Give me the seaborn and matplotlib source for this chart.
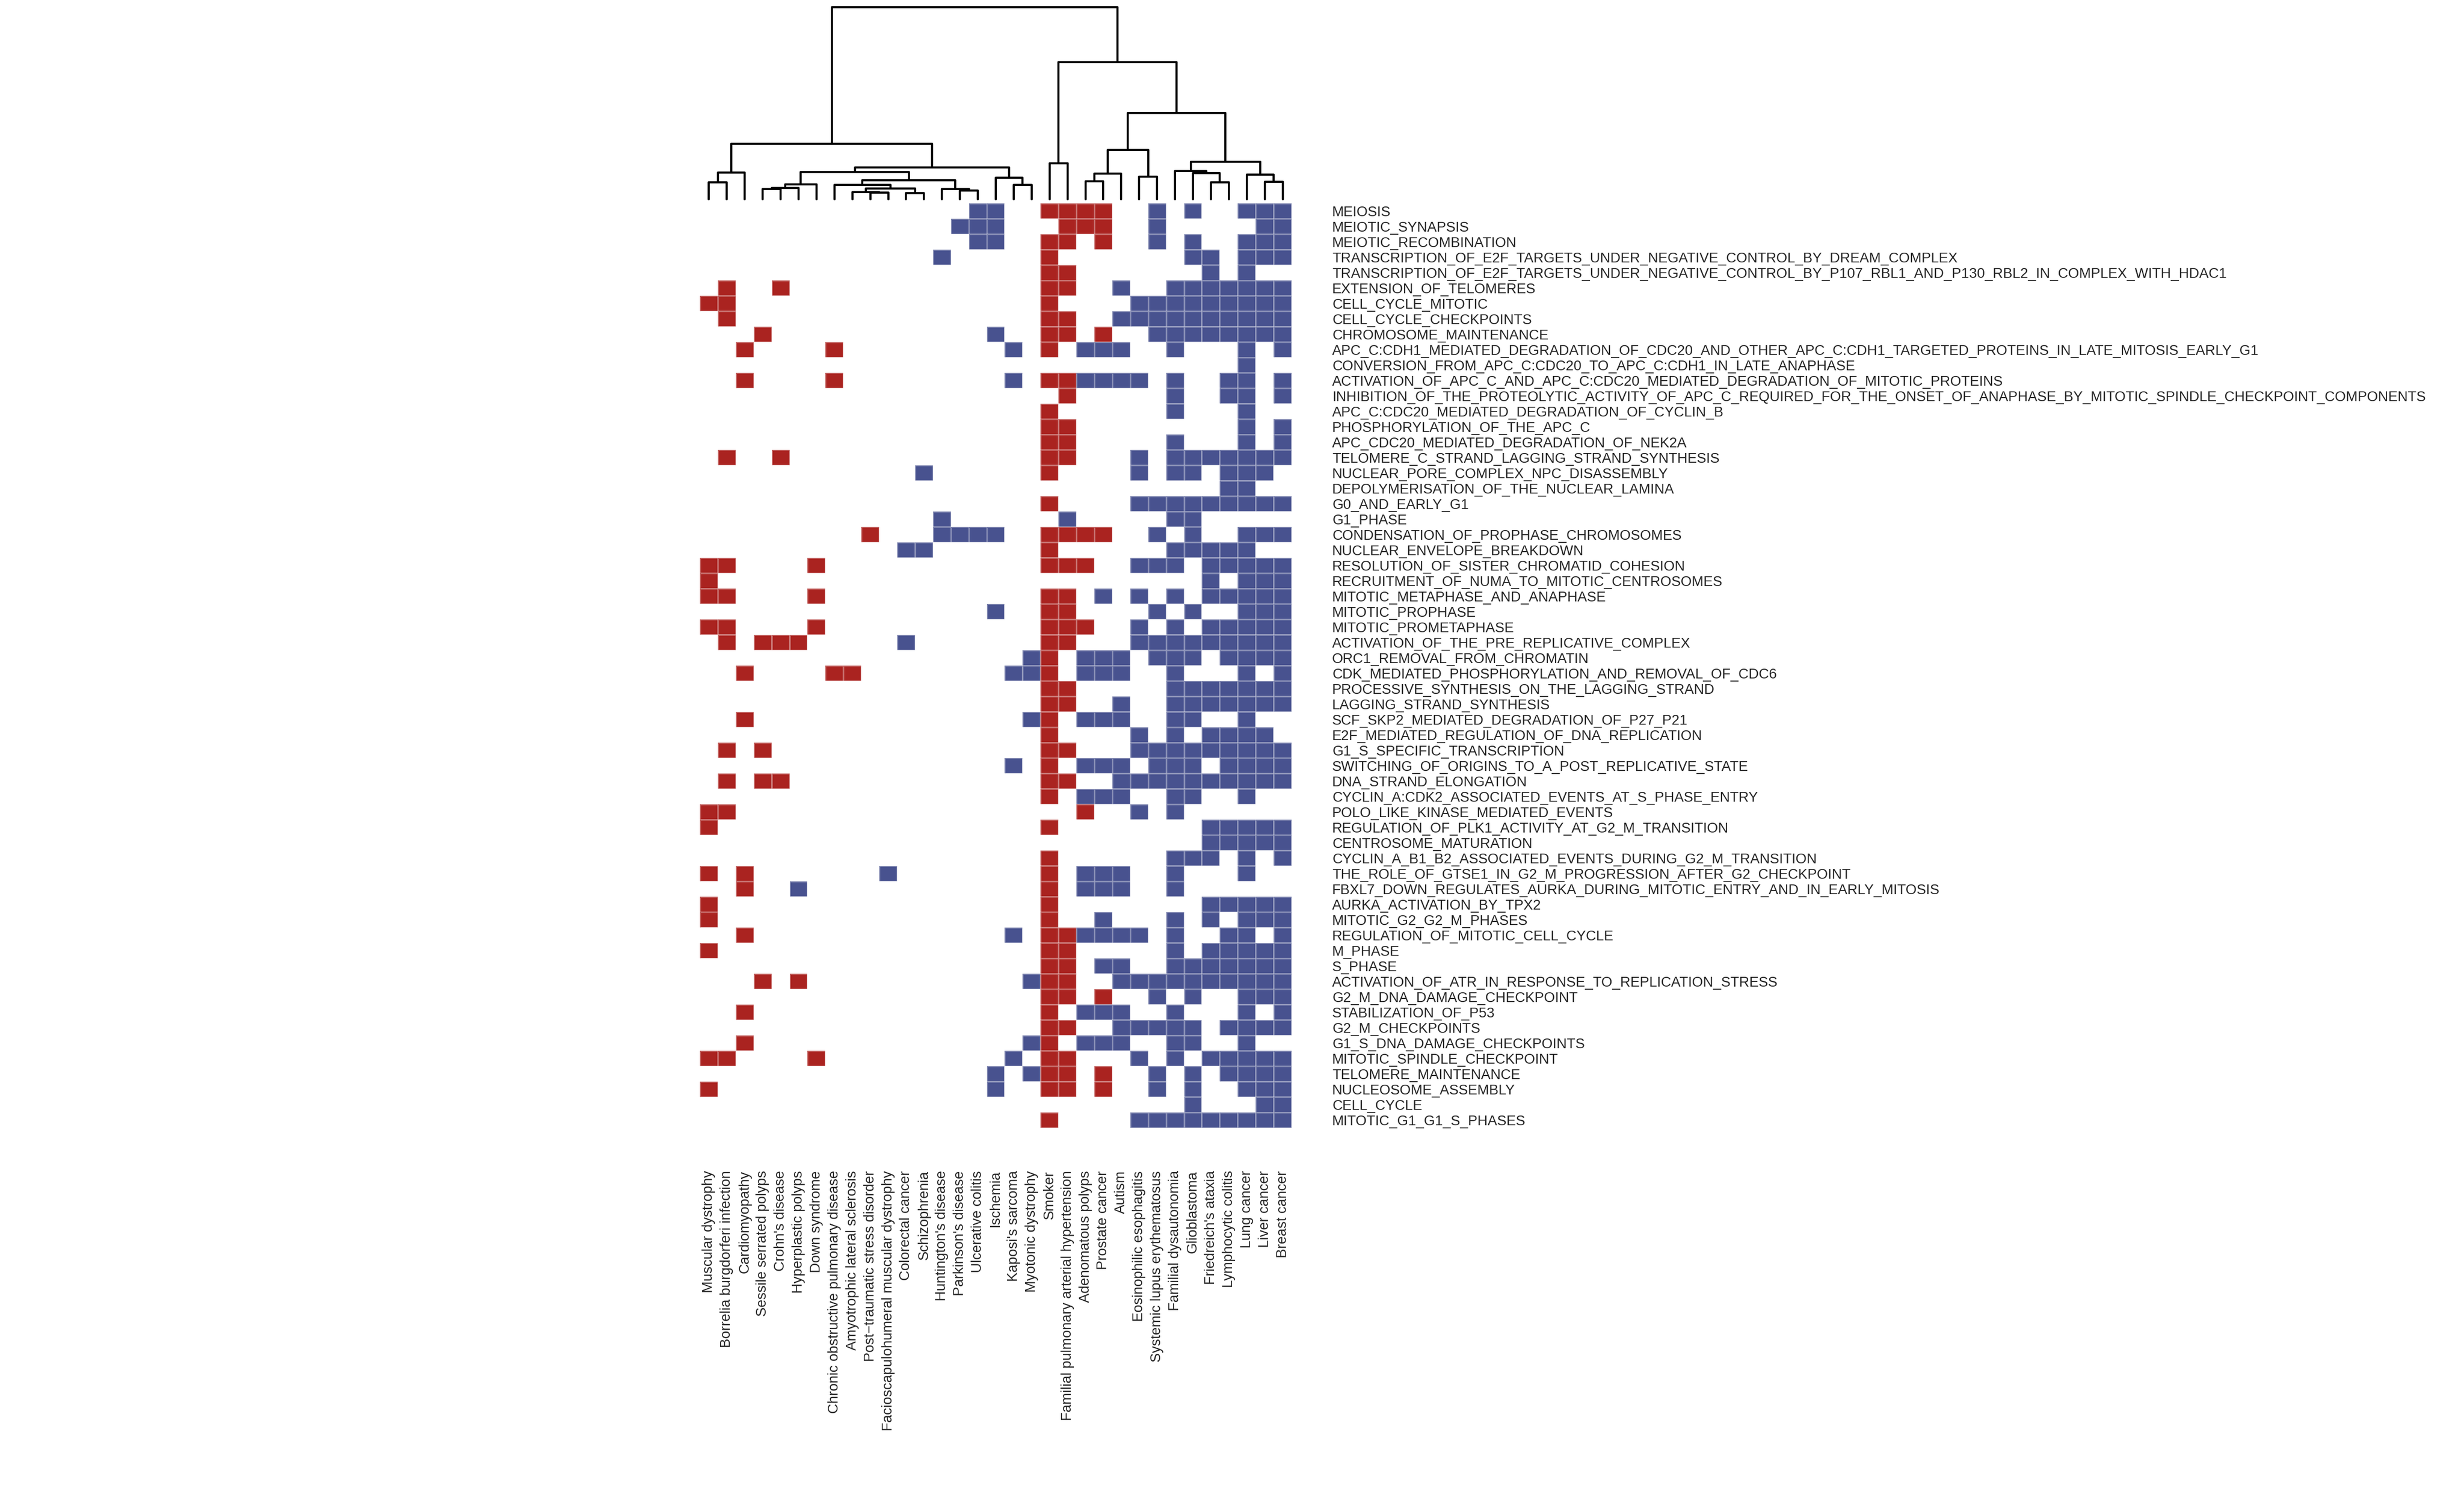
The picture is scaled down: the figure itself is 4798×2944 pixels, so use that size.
import numpy as np
import pandas as pd
import seaborn as sns
import matplotlib.pyplot as plt
from matplotlib.colors import ListedColormap

sns.set_style('white')
plt.rcParams['font.family'] = ['Liberation Sans', 'DejaVu Sans']

# column order as it comes out of the dendrogram
diseases = ['Muscular dystrophy', 'Borrelia burgdorferi infection', 'Cardiomyopathy',
            'Sessile serrated polyps', "Crohn's disease", 'Hyperplastic polyps', 'Down syndrome',
            'Chronic obstructive pulmonary disease', 'Amyotrophic lateral sclerosis',
            'Post\u2212traumatic stress disorder', 'Facioscapulohumeral muscular dystrophy',
            'Colorectal cancer', 'Schizophrenia', "Huntington's disease", "Parkinson's disease",
            'Ulcerative colitis', 'Ischemia', "Kaposi's sarcoma", 'Myotonic dystrophy', 'Smoker',
            'Familial pulmonary arterial hypertension', 'Adenomatous polyps', 'Prostate cancer',
            'Autism', 'Eosinophilic esophagitis', 'Systemic lupus erythematosus',
            'Familial dysautonomia', 'Glioblastoma', "Friedreich's ataxia", 'Lymphocytic colitis',
            'Lung cancer', 'Liver cancer', 'Breast cancer']

pathways = ['MEIOSIS', 'MEIOTIC_SYNAPSIS', 'MEIOTIC_RECOMBINATION',
            'TRANSCRIPTION_OF_E2F_TARGETS_UNDER_NEGATIVE_CONTROL_BY_DREAM_COMPLEX',
            'TRANSCRIPTION_OF_E2F_TARGETS_UNDER_NEGATIVE_CONTROL_BY_P107_RBL1_AND_P130_RBL2_IN_COMPLEX_WITH_HDAC1',
            'EXTENSION_OF_TELOMERES', 'CELL_CYCLE_MITOTIC', 'CELL_CYCLE_CHECKPOINTS',
            'CHROMOSOME_MAINTENANCE',
            'APC_C:CDH1_MEDIATED_DEGRADATION_OF_CDC20_AND_OTHER_APC_C:CDH1_TARGETED_PROTEINS_IN_LATE_MITOSIS_EARLY_G1',
            'CONVERSION_FROM_APC_C:CDC20_TO_APC_C:CDH1_IN_LATE_ANAPHASE',
            'ACTIVATION_OF_APC_C_AND_APC_C:CDC20_MEDIATED_DEGRADATION_OF_MITOTIC_PROTEINS',
            'INHIBITION_OF_THE_PROTEOLYTIC_ACTIVITY_OF_APC_C_REQUIRED_FOR_THE_ONSET_OF_ANAPHASE_BY_MITOTIC_SPINDLE_CHECKPOINT_COMPONENTS',
            'APC_C:CDC20_MEDIATED_DEGRADATION_OF_CYCLIN_B', 'PHOSPHORYLATION_OF_THE_APC_C',
            'APC_CDC20_MEDIATED_DEGRADATION_OF_NEK2A', 'TELOMERE_C_STRAND_LAGGING_STRAND_SYNTHESIS',
            'NUCLEAR_PORE_COMPLEX_NPC_DISASSEMBLY', 'DEPOLYMERISATION_OF_THE_NUCLEAR_LAMINA',
            'G0_AND_EARLY_G1', 'G1_PHASE', 'CONDENSATION_OF_PROPHASE_CHROMOSOMES',
            'NUCLEAR_ENVELOPE_BREAKDOWN', 'RESOLUTION_OF_SISTER_CHROMATID_COHESION',
            'RECRUITMENT_OF_NUMA_TO_MITOTIC_CENTROSOMES', 'MITOTIC_METAPHASE_AND_ANAPHASE',
            'MITOTIC_PROPHASE', 'MITOTIC_PROMETAPHASE', 'ACTIVATION_OF_THE_PRE_REPLICATIVE_COMPLEX',
            'ORC1_REMOVAL_FROM_CHROMATIN', 'CDK_MEDIATED_PHOSPHORYLATION_AND_REMOVAL_OF_CDC6',
            'PROCESSIVE_SYNTHESIS_ON_THE_LAGGING_STRAND', 'LAGGING_STRAND_SYNTHESIS',
            'SCF_SKP2_MEDIATED_DEGRADATION_OF_P27_P21', 'E2F_MEDIATED_REGULATION_OF_DNA_REPLICATION',
            'G1_S_SPECIFIC_TRANSCRIPTION', 'SWITCHING_OF_ORIGINS_TO_A_POST_REPLICATIVE_STATE',
            'DNA_STRAND_ELONGATION', 'CYCLIN_A:CDK2_ASSOCIATED_EVENTS_AT_S_PHASE_ENTRY',
            'POLO_LIKE_KINASE_MEDIATED_EVENTS', 'REGULATION_OF_PLK1_ACTIVITY_AT_G2_M_TRANSITION',
            'CENTROSOME_MATURATION', 'CYCLIN_A_B1_B2_ASSOCIATED_EVENTS_DURING_G2_M_TRANSITION',
            'THE_ROLE_OF_GTSE1_IN_G2_M_PROGRESSION_AFTER_G2_CHECKPOINT',
            'FBXL7_DOWN_REGULATES_AURKA_DURING_MITOTIC_ENTRY_AND_IN_EARLY_MITOSIS',
            'AURKA_ACTIVATION_BY_TPX2', 'MITOTIC_G2_G2_M_PHASES', 'REGULATION_OF_MITOTIC_CELL_CYCLE',
            'M_PHASE', 'S_PHASE', 'ACTIVATION_OF_ATR_IN_RESPONSE_TO_REPLICATION_STRESS',
            'G2_M_DNA_DAMAGE_CHECKPOINT', 'STABILIZATION_OF_P53', 'G2_M_CHECKPOINTS',
            'G1_S_DNA_DAMAGE_CHECKPOINTS', 'MITOTIC_SPINDLE_CHECKPOINT', 'TELOMERE_MAINTENANCE',
            'NUCLEOSOME_ASSEMBLY', 'CELL_CYCLE', 'MITOTIC_G1_G1_S_PHASES']

# column indices of up-regulated (red) cells, one list per pathway
up = [[19, 20, 21, 22], [20, 21, 22], [19, 20, 22], [19], [19, 20],
      [1, 4, 19, 20], [0, 1, 19], [1, 19, 20], [3, 19, 20, 22], [2, 7, 19],
      [], [2, 7, 19, 20], [20], [19], [19, 20],
      [19, 20], [1, 4, 19, 20], [19], [], [19],
      [], [9, 19, 20, 21, 22], [19], [0, 1, 6, 19, 20, 21], [0],
      [0, 1, 6, 19, 20], [19, 20], [0, 1, 6, 19, 20, 21], [1, 3, 4, 5, 19, 20], [19],
      [2, 7, 8, 19], [19, 20], [19, 20], [2, 19], [19],
      [1, 3, 19, 20], [19], [1, 3, 4, 19, 20], [19], [0, 1, 21],
      [0, 19], [], [19], [0, 2, 19], [2, 19],
      [0, 19], [0, 19], [2, 19, 20], [0, 19, 20], [19, 20],
      [3, 5, 19, 20], [19, 20, 22], [2, 19], [19, 20], [2, 19],
      [0, 1, 6, 19, 20], [19, 20, 22], [0, 19, 20, 22], [], [19]]

# column indices of down-regulated (blue) cells
down = [[15, 16, 25, 27, 30, 31, 32], [14, 15, 16, 25, 31, 32], [15, 16, 25, 27, 30, 31, 32],
        [13, 27, 28, 30, 31, 32], [28, 30],
        [23, 26, 27, 28, 29, 30, 31, 32], [24, 25, 26, 27, 28, 29, 30, 31, 32],
        [23, 24, 25, 26, 27, 28, 29, 30, 31, 32], [16, 25, 26, 27, 28, 29, 30, 31, 32],
        [17, 21, 22, 23, 26, 30, 32],
        [30], [17, 21, 22, 23, 24, 26, 29, 30, 32], [26, 29, 30, 32], [26, 30], [30, 32],
        [26, 30, 32], [24, 26, 27, 28, 29, 30, 31, 32], [12, 24, 26, 27, 29, 30, 31], [29, 30],
        [24, 25, 26, 27, 28, 29, 30, 31, 32],
        [13, 20, 26, 27], [13, 14, 15, 16, 25, 27, 30, 31, 32], [11, 12, 26, 27, 28, 29, 30],
        [24, 25, 26, 28, 29, 30, 31, 32], [28, 30, 31, 32],
        [22, 24, 26, 28, 29, 30, 31, 32], [16, 25, 27, 30, 31, 32], [24, 26, 28, 29, 30, 31, 32],
        [11, 24, 25, 26, 27, 28, 29, 30, 31, 32], [18, 21, 22, 23, 25, 26, 27, 29, 30, 31, 32],
        [17, 18, 21, 22, 23, 26, 30, 32], [26, 27, 28, 29, 30, 31, 32],
        [23, 26, 27, 28, 29, 30, 31, 32], [18, 21, 22, 23, 26, 27, 30], [24, 26, 28, 29, 30, 31],
        [24, 25, 26, 27, 28, 29, 30, 31, 32], [17, 21, 22, 23, 25, 26, 27, 29, 30, 31, 32],
        [23, 24, 25, 26, 27, 28, 29, 30, 31, 32], [21, 22, 23, 26, 27, 30], [24, 26],
        [28, 29, 30, 31, 32], [28, 29, 30, 31, 32], [26, 27, 28, 30, 32],
        [10, 21, 22, 23, 26, 30], [5, 21, 22, 23, 26],
        [28, 29, 30, 31, 32], [22, 26, 28, 30, 31, 32], [17, 21, 22, 23, 24, 26, 29, 30, 32],
        [26, 28, 29, 30, 31, 32], [22, 23, 26, 27, 28, 29, 30, 31, 32],
        [18, 23, 24, 25, 26, 27, 28, 29, 30, 31, 32], [25, 27, 30, 31, 32],
        [21, 22, 23, 26, 30, 32], [23, 24, 25, 26, 27, 29, 30, 31, 32],
        [18, 21, 22, 23, 26, 27, 30],
        [17, 24, 26, 28, 29, 30, 31, 32], [16, 18, 25, 27, 29, 30, 31, 32],
        [16, 25, 27, 30, 31, 32], [27, 31, 32], [24, 25, 26, 27, 28, 29, 30, 31, 32]]

# column dendrogram: (left node, right node, height); new nodes numbered from 33 on
merges = [(0, 1, 100), (33, 2, 157), (3, 4, 60), (35, 5, 67), (36, 6, 88),
          (9, 10, 40), (8, 38, 43), (11, 12, 37), (39, 40, 64), (7, 41, 83),
          (14, 15, 50), (13, 43, 60), (42, 44, 110), (37, 45, 158), (17, 18, 85),
          (16, 47, 127), (46, 48, 187), (34, 49, 325), (19, 20, 210), (21, 22, 105),
          (52, 23, 150), (24, 25, 132), (53, 54, 289), (28, 29, 100), (27, 56, 153),
          (26, 57, 165), (31, 32, 103), (30, 59, 145), (58, 60, 220), (55, 61, 505),
          (51, 62, 800), (50, 63, 1122)]

mat = np.zeros((len(pathways), len(diseases)))
for i in range(len(pathways)):
    mat[i, up[i]] = 1
    mat[i, down[i]] = -1
df = pd.DataFrame(mat, index=pathways, columns=diseases)

W, H = 4798, 2944
fig = plt.figure(figsize=(W / 300, H / 300), dpi=300)
ax_heat = fig.add_axes([1363 / W, 1 - 2196 / H, 1152 / W, 1800 / H])
ax_den = fig.add_axes([1363 / W, 1 - 388 / H, 1152 / W, 374 / H])

cmap = ListedColormap(['#48528F', '#FFFFFF', '#AA2320'])
sns.heatmap(df, cmap=cmap, vmin=-1.5, vmax=1.5, cbar=False, ax=ax_heat,
            linewidths=0.3, linecolor=(1, 1, 1, 0.3),
            xticklabels=True, yticklabels=True)

ax_heat.yaxis.tick_right()
ax_heat.set_yticklabels(pathways, rotation=0, ha='left', fontsize=6.6)
ax_heat.set_xticklabels(diseases, rotation=90, fontsize=6.6)
ax_heat.tick_params(axis='y', pad=19, length=0)
ax_heat.tick_params(axis='x', pad=20, length=0)
ax_heat.set_xlabel('')
ax_heat.set_ylabel('')

# dendrogram drawn from the merge list
xpos = {i: i + 0.5 for i in range(len(diseases))}
hgt = {i: 0.0 for i in range(len(diseases))}
node = len(diseases)
for a, b, h in merges:
    ax_den.plot([xpos[a], xpos[a], xpos[b], xpos[b]], [hgt[a], h, h, hgt[b]],
                color='black', lw=1.0, clip_on=False)
    xpos[node] = (xpos[a] + xpos[b]) / 2
    hgt[node] = h
    node += 1
ax_den.set_xlim(0, len(diseases))
ax_den.set_ylim(0, max(m[2] for m in merges))
ax_den.axis('off')

fig.savefig('out.png', dpi=300)
